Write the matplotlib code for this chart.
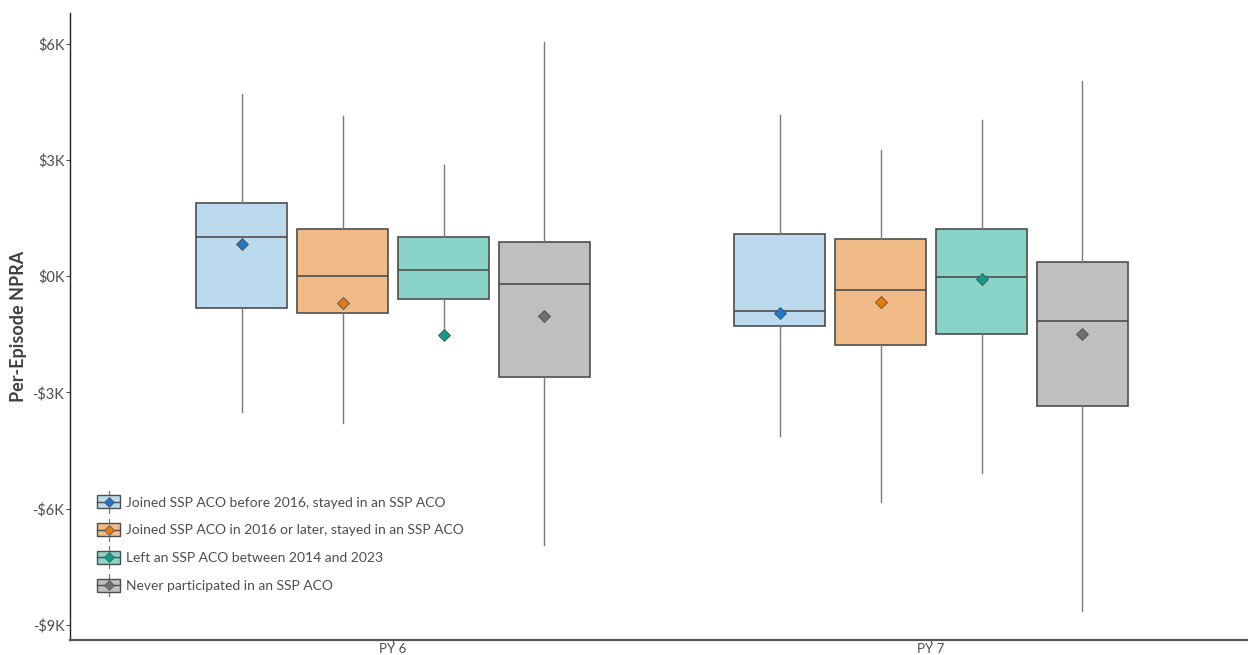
import matplotlib
matplotlib.use("Agg")
import matplotlib.pyplot as plt
from matplotlib.patches import Rectangle
from matplotlib.lines import Line2D
from matplotlib.legend_handler import HandlerBase
from matplotlib.ticker import FuncFormatter

plt.rcParams["font.family"] = ["Lato", "DejaVu Sans"]

# Program years and participation groups
years = ["PY 6", "PY 7"]
groups = [
    "Joined SSP ACO before 2016, stayed in an SSP ACO",
    "Joined SSP ACO in 2016 or later, stayed in an SSP ACO",
    "Left an SSP ACO between 2014 and 2023",
    "Never participated in an SSP ACO",
]

# Box statistics in $K, one list per group: [PY 6, PY 7]
whisker_low = [[-3.50, -4.12], [-3.79, -5.83], [-1.50, -5.07], [-6.94, -8.65]]
q1 = [[-0.82, -1.29], [-0.94, -1.77], [-0.58, -1.48], [-2.61, -3.36]]
median = [[1.01, -0.91], [0.00, -0.36], [0.15, -0.01], [-0.19, -1.16]]
q3 = [[1.89, 1.08], [1.21, 0.95], [1.00, 1.22], [0.87, 0.37]]
whisker_high = [[4.70, 4.16], [4.13, 3.26], [2.87, 4.03], [6.04, 5.03]]
mean = [[0.83, -0.96], [-0.68, -0.67], [-1.52, -0.08], [-1.03, -1.50]]

fill_colors = ["#BCDAEE", "#F0BB86", "#8AD3C8", "#BEBFC1"]
mean_colors = ["#1F78C8", "#E87B0C", "#16998A", "#707070"]
edge_color = "#4D4D4D"
whisker_color = "#7A7A7A"
text_color = "#4D4D4D"

W, H = 1248, 655
fig = plt.figure(figsize=(W / 100, H / 100), dpi=100)
ax = fig.add_axes([70 / W, 15 / H, 1 - 70 / W, (640 - 13.3) / H])

offsets = [-0.2813, -0.0938, 0.0938, 0.2813]
box_width = 0.1684

for g in range(len(groups)):
    stats = []
    positions = []
    for y in range(len(years)):
        stats.append(dict(
            med=median[g][y], q1=q1[g][y], q3=q3[g][y],
            whislo=whisker_low[g][y], whishi=whisker_high[g][y],
            mean=mean[g][y], fliers=[], label=years[y],
        ))
        positions.append(y + 1 + offsets[g])
    ax.bxp(
        stats, positions=positions, widths=box_width, patch_artist=True,
        showcaps=False, showfliers=False, showmeans=True, manage_ticks=False,
        boxprops=dict(facecolor=fill_colors[g], edgecolor=edge_color, linewidth=1.2),
        medianprops=dict(color=edge_color, linewidth=1.2),
        whiskerprops=dict(color=whisker_color, linewidth=1.0),
        meanprops=dict(marker="D", markersize=6.5, markerfacecolor=mean_colors[g],
                       markeredgecolor=edge_color, markeredgewidth=0.6),
        zorder=2,
    )

ax.set_xlim(0.3996, 2.589)
ax.set_ylim(-9.39, 6.785)
ax.set_xticks([1, 2])
ax.set_xticklabels(years)
ax.set_yticks([6, 3, 0, -3, -6, -9])
ax.yaxis.set_major_formatter(
    FuncFormatter(lambda v, _: ("-" if v < 0 else "") + "$%dK" % abs(round(v)))
)
ax.tick_params(axis="both", colors=text_color, labelsize=10.5, length=3, width=0.8,
               labelcolor=text_color)
ax.tick_params(axis="x", pad=0, labelsize=9.5, length=2)
ax.tick_params(axis="y", pad=1)
for side in ["top", "right"]:
    ax.spines[side].set_visible(False)
ax.spines["left"].set_color("#222222")
ax.spines["bottom"].set_color("#555555")
ax.spines["left"].set_linewidth(1.0)
ax.spines["bottom"].set_linewidth(1.6)
ax.set_ylabel("Per-Episode NPRA", fontsize=13, fontweight="bold", color="#404040",
              labelpad=4)


class BoxKeyHandler(HandlerBase):
    def __init__(self, face, marker_face):
        super().__init__()
        self.face = face
        self.marker_face = marker_face

    def create_artists(self, legend, orig_handle, xdescent, ydescent, width, height,
                       fontsize, trans):
        cx = width / 2 - xdescent
        cy = height / 2 - ydescent
        bw, bh = width * 0.95, height * 1.0
        vline = Line2D([cx, cx], [cy - bh * 0.85, cy + bh * 0.85],
                       color=whisker_color, linewidth=0.9, transform=trans)
        rect = Rectangle((cx - bw / 2, cy - bh / 2), bw, bh, facecolor=self.face,
                         edgecolor=edge_color, linewidth=1.0, transform=trans)
        mline = Line2D([cx - bw / 2, cx + bw / 2], [cy, cy], color=edge_color,
                       linewidth=1.0, transform=trans)
        dot = Line2D([cx], [cy], marker="D", markersize=5.5,
                     markerfacecolor=self.marker_face, markeredgecolor=edge_color,
                     markeredgewidth=0.5, transform=trans)
        return [vline, rect, mline, dot]


handles = [Rectangle((0, 0), 1, 1) for _ in groups]
handler_map = {h: BoxKeyHandler(fill_colors[i], mean_colors[i])
               for i, h in enumerate(handles)}
leg = ax.legend(handles, groups, handler_map=handler_map, loc="lower left",
                bbox_to_anchor=(0.018, 0.068), frameon=False, fontsize=10,
                handlelength=1.75, handleheight=1.05, handletextpad=0.35,
                labelspacing=1.05, borderaxespad=0)
for t in leg.get_texts():
    t.set_color(text_color)

fig.savefig("out.png", dpi=100)
